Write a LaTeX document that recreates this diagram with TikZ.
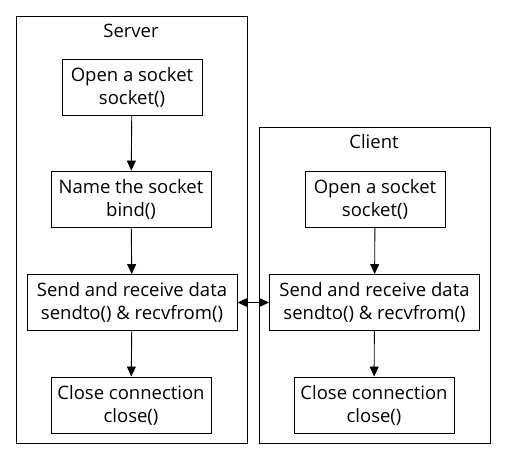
\documentclass[tikz,border=0pt]{standalone}
\usepackage{fontspec}
\setmainfont{Open Sans}
\usetikzlibrary{arrows.meta}
\begin{document}
\begin{tikzpicture}[x=1pt,y=-1pt,
  every node/.style={font=\fontsize{18.5}{23}\selectfont},
  box/.style={draw,line width=0.9pt,minimum width=#1,inner sep=0pt,align=center,minimum height=56},
  cluster/.style={draw,line width=0.9pt},
  arr/.style={line width=0.9pt,-{Triangle[length=10pt,width=9pt]}},
  arrb/.style={line width=0.9pt,{Triangle[length=10pt,width=9pt]}-{Triangle[length=10pt,width=9pt]}}]
\useasboundingbox (0,0) rectangle (507,461);
\draw[cluster] (16,16) rectangle (247,443);
\draw[cluster] (259,127) rectangle (490,443);
\node (slabel) at (131,31) {Server};
\node (clabel) at (374,142) {Client};
\node[box=140] (s1) at (132,87.5) {Open a socket\\socket()};
\node[box=160] (s2) at (131,199) {Name the socket\\bind()};
\node[box=210] (s3) at (132,302.5) {Send and receive data\\sendto() \& recvfrom()};
\node[box=160] (s4) at (131,405) {Close connection\\close()};
\node[box=140] (c1) at (375,199.5) {Open a socket\\socket()};
\node[box=210] (c3) at (374.5,302.5) {Send and receive data\\sendto() \& recvfrom()};
\node[box=160] (c4) at (374,405) {Close connection\\close()};
\draw[arr] (s1) -- (s2);
\draw[arr] (s2) -- (s3);
\draw[arr] (s3) -- (s4);
\draw[arr] (c1) -- (c3);
\draw[arr] (c3) -- (c4);
\draw[arrb] (s3) -- (c3);
\end{tikzpicture}
\end{document}
